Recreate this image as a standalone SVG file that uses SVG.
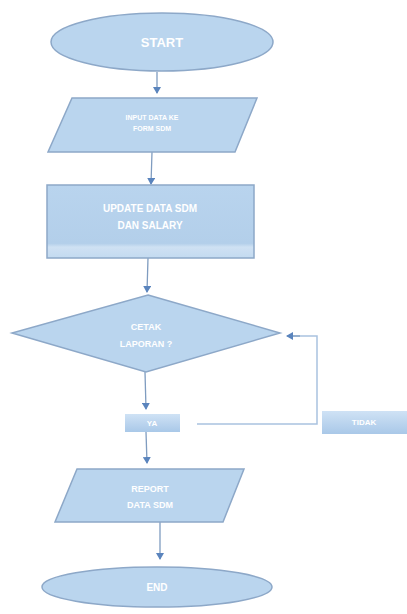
<svg xmlns="http://www.w3.org/2000/svg" width="407" height="614" viewBox="0 0 407 614">
<defs>
<linearGradient id="g" x1="0" y1="0" x2="0" y2="1">
<stop offset="0" stop-color="#b9d4ee"/>
<stop offset="0.8" stop-color="#b3cfea"/>
<stop offset="0.85" stop-color="#cfe1f3"/>
<stop offset="1" stop-color="#c3daf0"/>
</linearGradient>
<linearGradient id="lab" x1="0" y1="0" x2="0" y2="1">
<stop offset="0" stop-color="#cfe2f5"/>
<stop offset="1" stop-color="#a9c8e8"/>
</linearGradient>
<marker id="ah" markerWidth="8" markerHeight="8" refX="6" refY="4" orient="auto" markerUnits="userSpaceOnUse">
<path d="M0,0 L7,4 L0,8 Z" fill="#5a84bd"/>
</marker>
<style>
.shape{fill:#bad5ee;stroke:#8da8c8;stroke-width:1.5}
.t{fill:#ffffff;font-family:"Liberation Sans",Arial,sans-serif;font-weight:bold;text-anchor:middle}
.c{fill:none;stroke:#7f9cc0;stroke-width:1.3}
.c2{fill:none;stroke:#a9c2df;stroke-width:1.5}
</style>
</defs>
<rect width="407" height="614" fill="#ffffff"/>
<g id="connectors">
<line class="c" x1="157" y1="72" x2="157" y2="93" marker-end="url(#ah)"/>
<line class="c" x1="152" y1="152" x2="151" y2="184" marker-end="url(#ah)"/>
<line class="c" x1="148" y1="258" x2="147" y2="292" marker-end="url(#ah)"/>
<line class="c" x1="145" y1="372" x2="146" y2="409" marker-end="url(#ah)"/>
<line class="c" x1="146" y1="432" x2="147" y2="463" marker-end="url(#ah)"/>
<line class="c" x1="160" y1="522" x2="160" y2="559" marker-end="url(#ah)"/>
<polyline class="c2" points="197,424 317,424 317,336 293,336"/>
<line class="c" x1="300" y1="336" x2="287" y2="336" marker-end="url(#ah)"/>
</g>
<g id="start">
<ellipse class="shape" cx="162" cy="42" rx="111" ry="29"/>
<text class="t" x="162" y="47" font-size="13">START</text>
</g>
<g id="input">
<polygon class="shape" points="72,98 257,98 235,152 48,152"/>
<text class="t" x="152" y="120" font-size="7">INPUT DATA KE</text>
<text class="t" x="152" y="131" font-size="7">FORM SDM</text>
</g>
<g id="update">
<rect x="47" y="185" width="207" height="73" fill="url(#g)" stroke="#8da8c8" stroke-width="1.5"/>
<text class="t" x="150" y="212" font-size="10">UPDATE DATA SDM</text>
<text class="t" x="150" y="229" font-size="10">DAN SALARY</text>
</g>
<g id="decision">
<polygon class="shape" points="148,295 280,333 146,372 12,333"/>
<text class="t" x="146" y="330" font-size="9">CETAK</text>
<text class="t" x="146" y="347" font-size="9">LAPORAN ?</text>
</g>
<g id="ya">
<rect x="125" y="414" width="55" height="18" fill="url(#lab)"/>
<text class="t" x="152" y="426" font-size="8">YA</text>
</g>
<g id="tidak">
<rect x="322" y="411" width="85" height="23" fill="url(#lab)"/>
<text class="t" x="364" y="425" font-size="8">TIDAK</text>
</g>
<g id="report">
<polygon class="shape" points="77,469 244,469 223,522 55,522"/>
<text class="t" x="150" y="492" font-size="9">REPORT</text>
<text class="t" x="150" y="508" font-size="9">DATA SDM</text>
</g>
<g id="end">
<ellipse class="shape" cx="157" cy="587" rx="115" ry="20"/>
<text class="t" x="157" y="591" font-size="10">END</text>
</g>
</svg>
